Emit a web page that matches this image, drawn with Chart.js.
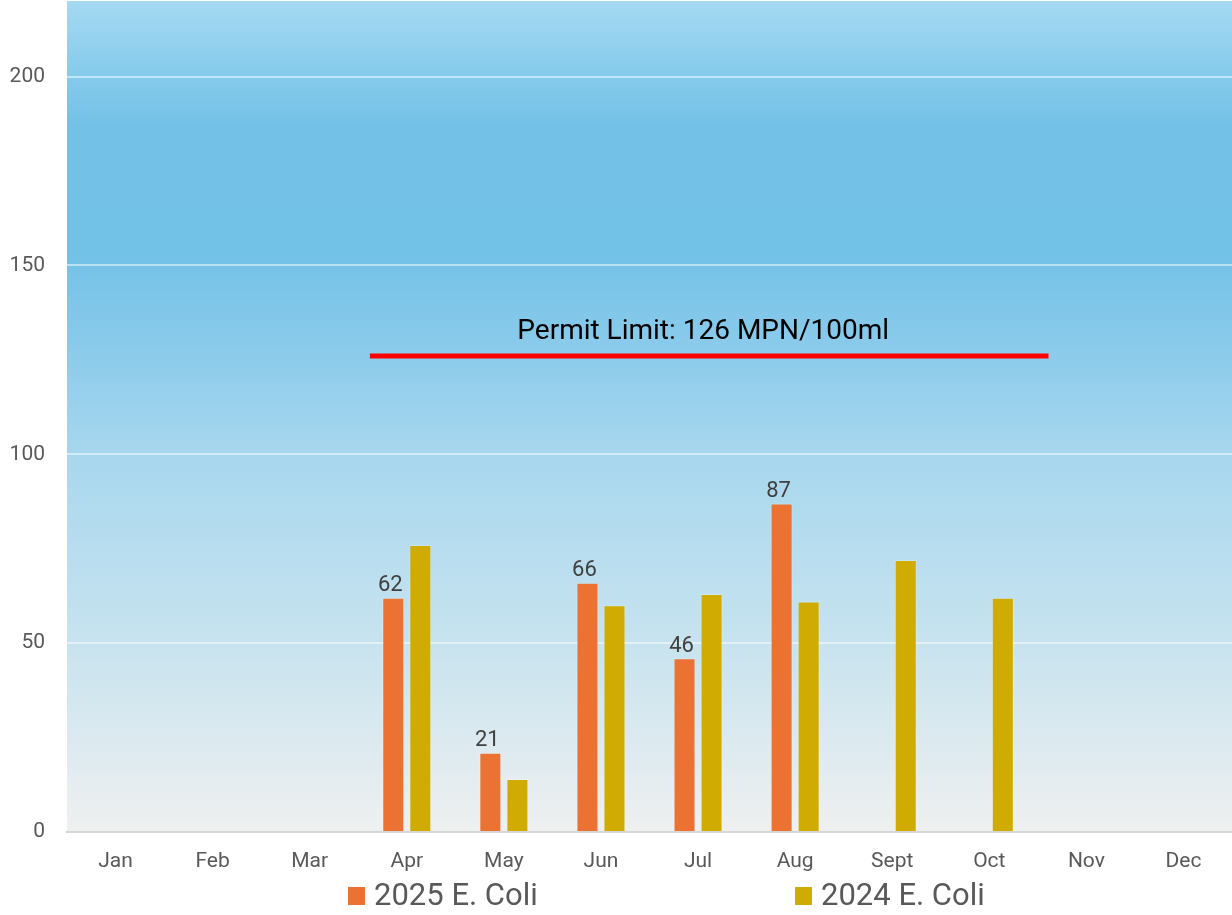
<!DOCTYPE html>
<html>
<head>
<meta charset="utf-8">
<title>E. Coli by Month</title>
<script src="https://cdn.jsdelivr.net/npm/chart.js@4.4.1/dist/chart.umd.min.js"></script>
<style>
  html, body { margin: 0; padding: 0; background: #ffffff; }
  #wrap { width: 1232px; height: 915px; position: relative; }
</style>
</head>
<body>
<div id="wrap"><canvas id="chart"></canvas></div>
<script>
// Monthly sample results (MPN/100ml)
const months = ['Jan', 'Feb', 'Mar', 'Apr', 'May', 'Jun', 'Jul', 'Aug', 'Sept', 'Oct', 'Nov', 'Dec'];
const ecoli2025 = [null, null, null, 62, 21, 66, 46, 87, null, null, null, null];
const ecoli2024 = [null, null, null, 76, 14, 60, 63, 61, 72, 62, null, null];
const seriesNames = ['2025 E. Coli', '2024 E. Coli'];
const yTicks = [0, 50, 100, 150, 200];
const permitLimit = 126;
const permitText = 'Permit Limit: 126 MPN/100ml';

const FONT = "Roboto, 'Open Sans', 'DejaVu Sans', sans-serif";

// Sky gradient behind the plot area
const skyBackground = {
  id: 'skyBackground',
  beforeDraw(chart) {
    const { ctx, chartArea: a } = chart;
    const g = ctx.createLinearGradient(0, a.top, 0, a.bottom);
    g.addColorStop(0.00, '#a5d9f2');
    g.addColorStop(0.08, '#88ccec');
    g.addColorStop(0.15, '#74c1e7');
    g.addColorStop(0.30, '#72c1e7');
    g.addColorStop(0.42, '#8bcbeb');
    g.addColorStop(0.55, '#a8d7ee');
    g.addColorStop(0.77, '#c7e3ef');
    g.addColorStop(1.00, '#eff0f0');
    ctx.save();
    ctx.fillStyle = g;
    ctx.fillRect(a.left, a.top, a.right - a.left, a.bottom - a.top);
    ctx.restore();
  }
};

// Red permit-limit marker with its caption
const permitLine = {
  id: 'permitLine',
  afterDatasetsDraw(chart) {
    const { ctx, scales: { x, y } } = chart;
    const yPix = y.getPixelForValue(permitLimit);
    const x0 = x.getPixelForValue(2.62);
    const x1 = x.getPixelForValue(9.61);
    ctx.save();
    ctx.strokeStyle = '#ff0000';
    ctx.lineWidth = 5;
    ctx.beginPath();
    ctx.moveTo(x0, yPix);
    ctx.lineTo(x1, yPix);
    ctx.stroke();
    ctx.fillStyle = '#000000';
    ctx.font = '28px ' + FONT;
    ctx.textAlign = 'center';
    ctx.textBaseline = 'middle';
    ctx.fillText(permitText, (x0 + x1) / 2 - 6, yPix - 24);
    ctx.restore();
  }
};

// Value labels above the 2025 bars
const valueLabels = {
  id: 'valueLabels',
  afterDatasetsDraw(chart) {
    const { ctx } = chart;
    const meta = chart.getDatasetMeta(0);
    const data = chart.data.datasets[0].data;
    ctx.save();
    ctx.fillStyle = '#404040';
    ctx.font = '22px ' + FONT;
    ctx.textAlign = 'center';
    ctx.textBaseline = 'bottom';
    meta.data.forEach((bar, i) => {
      if (data[i] === null || data[i] === undefined) return;
      ctx.fillText(String(data[i]), bar.x - 3, bar.y - 1);
    });
    ctx.restore();
  }
};

// Legend drawn below the month labels
const bottomLegend = {
  id: 'bottomLegend',
  afterDraw(chart) {
    const { ctx } = chart;
    const starts = [348, 795];
    const yMid = 896;
    ctx.save();
    ctx.font = '31px ' + FONT;
    ctx.textBaseline = 'middle';
    ctx.textAlign = 'left';
    chart.data.datasets.forEach((ds, i) => {
      const sx = starts[i];
      ctx.fillStyle = ds.backgroundColor;
      ctx.fillRect(sx, yMid - 9, 17, 18);
      ctx.fillStyle = '#595959';
      ctx.fillText(ds.label, sx + 26, yMid + 1);
    });
    ctx.restore();
  }
};

new Chart(document.getElementById('chart'), {
  type: 'bar',
  data: {
    labels: months,
    datasets: [
      {
        label: seriesNames[0],
        data: ecoli2025,
        backgroundColor: '#ec7234',
        borderColor: 'rgba(255,255,255,0.25)',
        borderWidth: 1,
        categoryPercentage: 0.557,
        barPercentage: 0.815
      },
      {
        label: seriesNames[1],
        data: ecoli2024,
        backgroundColor: '#d0ac02',
        borderColor: 'rgba(255,255,255,0.25)',
        borderWidth: 1,
        categoryPercentage: 0.557,
        barPercentage: 0.815
      }
    ]
  },
  options: {
    responsive: true,
    maintainAspectRatio: false,
    animation: false,
    layout: { padding: { top: 1, right: 0, bottom: 0, left: 0 } },
    plugins: {
      legend: { display: false },
      tooltip: { enabled: false }
    },
    scales: {
      x: {
        grid: { display: false, drawTicks: false },
        border: { display: true, color: '#d6d6d6', width: 2 },
        ticks: { color: '#595959', font: { family: FONT, size: 21 }, padding: 17, maxRotation: 0 },
        afterFit(scale) {
          scale.height = 83;
          scale.paddingLeft = 0;
          scale.paddingRight = 0;
          scale.paddingTop = 0;
          scale.paddingBottom = 0;
        }
      },
      y: {
        min: 0,
        max: 220,
        afterBuildTicks(scale) {
          scale.ticks = yTicks.map(v => ({ value: v }));
        },
        grid: {
          color: ctx => ctx.tick && ctx.tick.value === 0 ? 'rgba(0,0,0,0)' : 'rgba(255,255,255,0.5)',
          lineWidth: 2,
          drawTicks: false
        },
        border: { display: false },
        ticks: { color: '#595959', font: { family: FONT, size: 21 }, padding: 22 },
        afterFit(scale) {
          scale.width = 67;
          scale.paddingTop = 0;
          scale.paddingBottom = 0;
          scale.paddingLeft = 0;
          scale.paddingRight = 0;
        }
      }
    }
  },
  plugins: [skyBackground, permitLine, valueLabels, bottomLegend]
});
</script>
</body>
</html>
